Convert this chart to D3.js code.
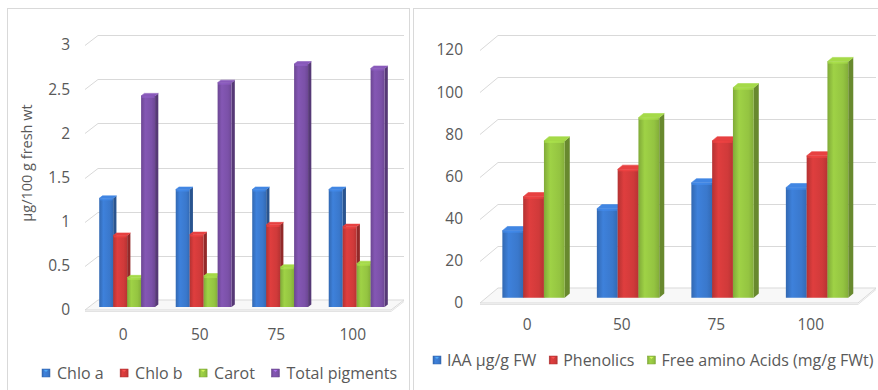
<!DOCTYPE html>
<html>
<head>
<meta charset="utf-8">
<script src="https://cdn.jsdelivr.net/npm/d3@7/dist/d3.min.js"></script>
<style>
html,body{margin:0;padding:0;background:#fff;}
svg{display:block;font-family:"Open Sans",sans-serif;}
</style>
</head>
<body>
<svg id="chart" width="878" height="390"></svg>
<script>
// ---- data ----
const categories = ["0", "50", "75", "100"];
const chloA = [1.23, 1.33, 1.33, 1.33];
const chloB = [0.81, 0.82, 0.93, 0.91];
const carot = [0.33, 0.35, 0.45, 0.49];
const totalPigments = [2.39, 2.54, 2.75, 2.70];
const leftTicks = [0, 0.5, 1, 1.5, 2, 2.5, 3];
const leftSeriesNames = ["Chlo a", "Chlo b", "Carot", "Total pigments"];
const leftYTitle = "μg/100 g fresh wt";

const iaa = [31.8, 42.2, 54.5, 52.2];
const phenolics = [47.9, 60.9, 74.4, 67.3];
const aminoAcids = [74.4, 85.4, 99.6, 112];
const rightTicks = [0, 20, 40, 60, 80, 100, 120];
const rightSeriesNames = ["IAA μg/g FW", "Phenolics", "Free amino Acids (mg/g FWt)"];

const palette = {
  blue: "#3a78cc", red: "#d03a3a", green: "#94c441", purple: "#7b51a8"
};

const svg = d3.select("#chart");
const defs = svg.append("defs");

function makeGrad(id, base) {
  const c = d3.color(base);
  const g = defs.append("linearGradient").attr("id", id)
    .attr("x1", "0%").attr("x2", "100%").attr("y1", "0%").attr("y2", "0%");
  g.append("stop").attr("offset", "0%").attr("stop-color", c.darker(0.4));
  g.append("stop").attr("offset", "30%").attr("stop-color", c.brighter(0.2));
  g.append("stop").attr("offset", "75%").attr("stop-color", c);
  g.append("stop").attr("offset", "100%").attr("stop-color", c.darker(0.35));
}
Object.entries(palette).forEach(([k, v]) => makeGrad("g_" + k, v));

// panel borders
svg.append("rect").attr("x", 7.5).attr("y", 8.5).attr("width", 402).attr("height", 400)
  .attr("fill", "none").attr("stroke", "#d9d9d9");
svg.append("rect").attr("x", 413.5).attr("y", 8.5).attr("width", 480).attr("height", 400)
  .attr("fill", "none").attr("stroke", "#d9d9d9");

function drawChart(cfg) {
  const g = svg.append("g");
  const { dx, dy } = cfg;
  const x0 = d3.scaleBand().domain(categories).range([cfg.left, cfg.right]).padding(0);
  const x1 = d3.scaleBand().domain(d3.range(cfg.series.length))
    .range([x0.bandwidth() * cfg.groupPad, x0.bandwidth() * (1 - cfg.groupPad)]).padding(0);
  const y = d3.scaleLinear().domain([cfg.ticks[0], cfg.ticks[cfg.ticks.length - 1]])
    .range([cfg.bottom, cfg.top]);

  // floor
  const y0 = y(0);
  g.append("path")
    .attr("d", `M${cfg.left},${y0} L${cfg.right},${y0} L${cfg.right + dx},${y0 - dy} L${cfg.left + dx},${y0 - dy} Z`)
    .attr("fill", "#f8f8f8").attr("stroke", "#d9d9d9").attr("stroke-width", 1);
  g.append("path")
    .attr("d", `M${cfg.left},${y0 + 1.5} L${cfg.right},${y0 + 1.5} L${cfg.right + dx},${y0 - dy + 1.5}`)
    .attr("fill", "none").attr("stroke", "#e3e3e3").attr("stroke-width", 1);

  // gridlines on back wall + side diagonal
  cfg.ticks.forEach(t => {
    if (t === 0) return;
    const yy = Math.round(y(t)) + 0.5;
    g.append("path")
      .attr("d", `M${cfg.left},${yy} L${cfg.left + dx},${yy - dy} L${cfg.right + dx},${yy - dy}`)
      .attr("fill", "none").attr("stroke", "#d9d9d9").attr("stroke-width", 1);
  });

  // y axis labels
  const yAxis = d3.axisLeft(y).tickValues(cfg.ticks).tickSize(0).tickPadding(0)
    .tickFormat(d => String(d));
  const ya = g.append("g").attr("transform", `translate(${cfg.left - cfg.labelGap},0)`).call(yAxis);
  ya.select(".domain").remove();
  ya.selectAll("text").attr("fill", "#595959").style("font-size", "15.5px")
    .style("font-family", "'Open Sans',sans-serif");

  // x axis labels
  const xAxis = d3.axisBottom(x0).tickSize(0).tickPadding(0);
  const xa = g.append("g").attr("transform", `translate(0,${cfg.xLabelY})`).call(xAxis);
  xa.select(".domain").remove();
  xa.selectAll("text").attr("fill", "#595959").style("font-size", "15.5px")
    .style("font-family", "'Open Sans',sans-serif").attr("dy", "0.32em");

  // bars
  const f1 = cfg.f1, f2 = cfg.f2;
  const ox = f1 * dx, oy = -f1 * dy;
  const sx = (f2 - f1) * dx, sy = -(f2 - f1) * dy;
  const w = x1.bandwidth();
  categories.forEach((c, ci) => {
    cfg.series.forEach((s, si) => {
      const v = s.values[ci];
      const bx = x0(c) + x1(si) + ox;
      const by = y(v) + oy;
      const bb = y(0) + oy;
      const base = d3.color(palette[s.color]);
      g.append("path")
        .attr("d", `M${bx + w},${by} L${bx + w + sx},${by + sy} L${bx + w + sx},${bb + sy} L${bx + w},${bb} Z`)
        .attr("fill", base.darker(1.0));
      g.append("path")
        .attr("d", `M${bx},${by} L${bx + sx},${by + sy} L${bx + w + sx},${by + sy} L${bx + w},${by} Z`)
        .attr("fill", base.brighter(0.3)).attr("stroke", base.brighter(0.3)).attr("stroke-width", 0.6)
        .attr("stroke-linejoin", "round");
      g.append("rect").attr("x", bx).attr("y", by).attr("width", w).attr("height", bb - by)
        .attr("fill", `url(#g_${s.color})`);
      g.append("rect").attr("x", bx + 0.5).attr("y", by).attr("width", w - 1).attr("height", 2)
        .attr("fill", base.brighter(0.5)).attr("opacity", 0.6);
    });
  });

  // legend
  const lg = g.append("g").attr("transform", `translate(${cfg.legendX},${cfg.legendY})`);
  let cx = 0;
  cfg.series.forEach((s, si) => {
    const base = d3.color(palette[s.color]);
    const item = lg.append("g").attr("transform", `translate(${cx},0)`);
    item.append("rect").attr("x", 0).attr("y", -4).attr("width", 8).attr("height", 8)
      .attr("fill", `url(#g_${s.color})`).attr("stroke", base.darker(0.5)).attr("stroke-width", 0.5);
    item.append("path").attr("d", "M2,-3 L6,-3 L4,-1 Z").attr("fill", base.brighter(1.2)).attr("opacity", 0.8);
    const t = item.append("text").attr("x", cfg.legendTextOff).attr("y", 0).attr("dy", "0.35em")
      .attr("fill", "#595959").style("font-size", "16px").text(s.name);
    cx += cfg.legendTextOff + t.node().getComputedTextLength() + cfg.legendGap;
  });

  if (cfg.yTitle) {
    g.append("text").attr("transform", `translate(${cfg.yTitleX},${cfg.yTitleY}) rotate(-90)`)
      .attr("text-anchor", "middle").attr("dy", "0.35em")
      .attr("fill", "#595959").style("font-size", "14.5px").text(cfg.yTitle);
  }
}

drawChart({
  left: 85, right: 391, top: 45, bottom: 310, dx: 13, dy: 10,
  ticks: leftTicks, groupPad: 0.135, f1: 0.3, f2: 0.55,
  labelGap: 15, xLabelY: 335,
  series: [
    { name: leftSeriesNames[0], values: chloA, color: "blue" },
    { name: leftSeriesNames[1], values: chloB, color: "red" },
    { name: leftSeriesNames[2], values: carot, color: "green" },
    { name: leftSeriesNames[3], values: totalPigments, color: "purple" }
  ],
  legendX: 42, legendY: 373, legendTextOff: 15, legendGap: 16.5,
  yTitle: leftYTitle, yTitleX: 27, yTitleY: 163
});

drawChart({
  left: 480, right: 858, top: 50, bottom: 303, dx: 18, dy: 15,
  ticks: rightTicks, groupPad: 0.17, f1: 0.35, f2: 0.63,
  labelGap: 17, xLabelY: 325,
  series: [
    { name: rightSeriesNames[0], values: iaa, color: "blue" },
    { name: rightSeriesNames[1], values: phenolics, color: "red" },
    { name: rightSeriesNames[2], values: aminoAcids, color: "green" }
  ],
  legendX: 433, legendY: 360, legendTextOff: 14, legendGap: 13
});
</script>
</body>
</html>
